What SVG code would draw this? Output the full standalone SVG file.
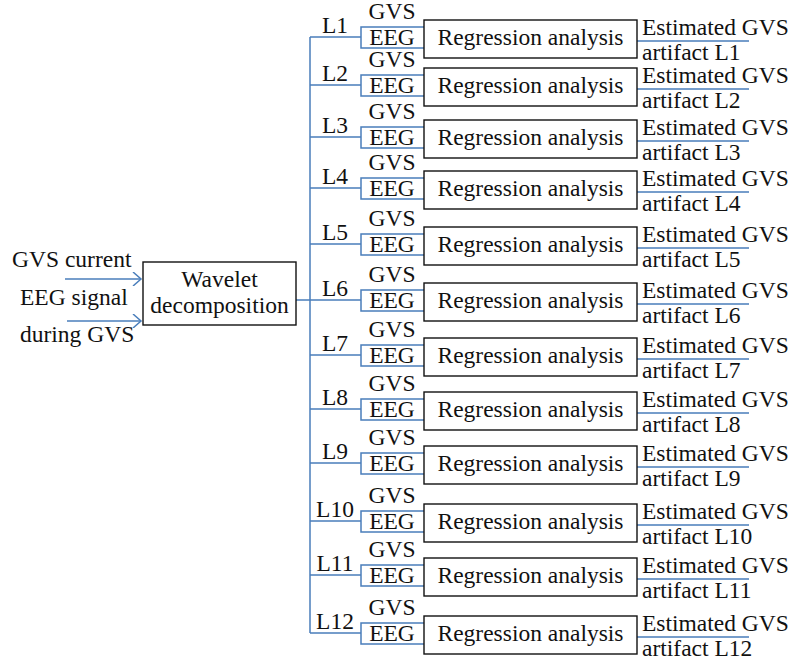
<svg xmlns="http://www.w3.org/2000/svg" width="794" height="667" viewBox="0 0 794 667">
<style>
text{font-family:"Liberation Serif","Times New Roman",serif;font-size:23.5px;fill:#111}
.m{text-anchor:middle}
.box{fill:#fff;stroke:#111;stroke-width:1.4}
.c{fill:none;stroke:#4a7ebb;stroke-width:1.5}
</style>
<defs>
<marker id="arr" markerWidth="12" markerHeight="14" refX="10" refY="7" orient="auto" markerUnits="userSpaceOnUse">
<path d="M2,0 L10,7 L2,14" fill="none" stroke="#4a7ebb" stroke-width="1.5"/>
</marker>
<g id="row">
<path class="c" d="M310,0 H361 M424,-10 H361 V11 H424 M637,4 H749"/>
<rect class="box" x="424" y="-17" width="213" height="38"/>
<text class="m" x="392" y="-18">GVS</text>
<text class="m" x="392" y="8">EEG</text>
<text class="m" x="530.5" y="8">Regression analysis</text>
<text x="642" y="-2">Estimated GVS</text>
</g>
</defs>
<g id="inputs">
<text x="12" y="267">GVS current</text>
<text x="20" y="305">EEG signal</text>
<text x="20" y="342">during GVS</text>
</g>
<g id="connectors">
<line class="c" x1="65" y1="279" x2="141" y2="279" marker-end="url(#arr)"/>
<line class="c" x1="67" y1="321" x2="141" y2="321" marker-end="url(#arr)"/>
<path class="c" d="M296,300 H310 M310,37 V633"/>
</g>
<g id="wavelet">
<rect class="box" x="143" y="262" width="153" height="63"/>
<text class="m" x="219.5" y="287">Wavelet</text>
<text class="m" x="219.5" y="313">decomposition</text>
</g>
<g id="L1"><use href="#row" y="37"/><text class="m" x="335" y="33">L1</text><text x="642" y="60">artifact L1</text></g>
<g id="L2"><use href="#row" y="85"/><text class="m" x="335" y="81">L2</text><text x="642" y="108">artifact L2</text></g>
<g id="L3"><use href="#row" y="137"/><text class="m" x="335" y="133">L3</text><text x="642" y="160">artifact L3</text></g>
<g id="L4"><use href="#row" y="188"/><text class="m" x="335" y="184">L4</text><text x="642" y="211">artifact L4</text></g>
<g id="L5"><use href="#row" y="244"/><text class="m" x="335" y="240">L5</text><text x="642" y="267">artifact L5</text></g>
<g id="L6"><use href="#row" y="300"/><text class="m" x="335" y="296">L6</text><text x="642" y="323">artifact L6</text></g>
<g id="L7"><use href="#row" y="355"/><text class="m" x="335" y="351">L7</text><text x="642" y="378">artifact L7</text></g>
<g id="L8"><use href="#row" y="409"/><text class="m" x="335" y="405">L8</text><text x="642" y="432">artifact L8</text></g>
<g id="L9"><use href="#row" y="463"/><text class="m" x="335" y="459">L9</text><text x="642" y="486">artifact L9</text></g>
<g id="L10"><use href="#row" y="521"/><text class="m" x="335" y="517">L10</text><text x="642" y="544">artifact L10</text></g>
<g id="L11"><use href="#row" y="575"/><text class="m" x="335" y="571">L11</text><text x="642" y="598">artifact L11</text></g>
<g id="L12"><use href="#row" y="633"/><text class="m" x="335" y="629">L12</text><text x="642" y="656">artifact L12</text></g>
</svg>
